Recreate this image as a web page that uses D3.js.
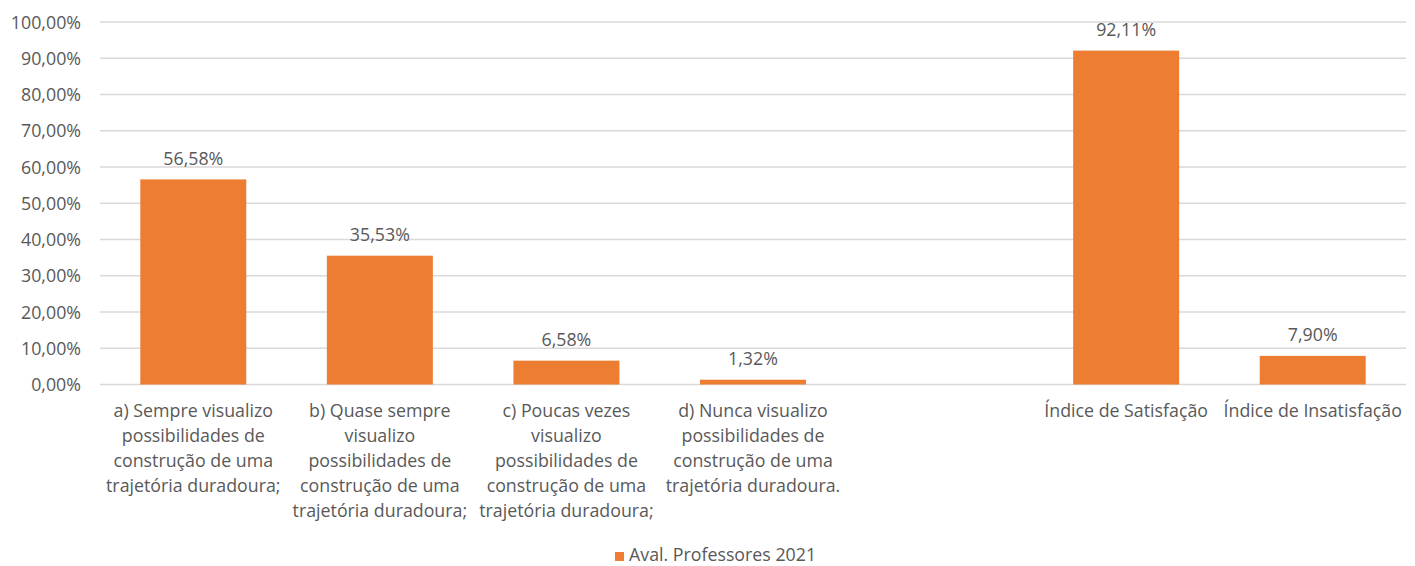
<!DOCTYPE html>
<html>
<head>
<meta charset="utf-8">
<script src="https://cdn.jsdelivr.net/npm/d3@7"></script>
<style>
  html, body { margin: 0; padding: 0; background: #fff; }
  svg text { font-family: "Open Sans", "Noto Sans", sans-serif; fill: #595959; }
</style>
</head>
<body>
<svg id="chart" width="1415" height="566"></svg>
<script>
// Category labels (line breaks as they wrap under the bars); "" is a spacer slot
const categories = [
  "a) Sempre visualizo\npossibilidades de\nconstrução de uma\ntrajetória duradoura;",
  "b) Quase sempre\nvisualizo\npossibilidades de\nconstrução de uma\ntrajetória duradoura;",
  "c) Poucas vezes\nvisualizo\npossibilidades de\nconstrução de uma\ntrajetória duradoura;",
  "d) Nunca visualizo\npossibilidades de\nconstrução de uma\ntrajetória duradoura.",
  "",
  "Índice de Satisfação",
  "Índice de Insatisfação"
];
const values = [56.58, 35.53, 6.58, 1.32, null, 92.11, 7.90];
const seriesName = "Aval. Professores 2021";
const yTicks = [0, 10, 20, 30, 40, 50, 60, 70, 80, 90, 100];

const fmt = v => v.toFixed(2).replace(".", ",") + "%";

const svg = d3.select("#chart");
const margin = { left: 100, right: 9, top: 22, bottom: 182 };
const W = 1415, H = 566;
const FS = 17.8;

const x = d3.scaleBand()
  .domain(d3.range(categories.length))
  .range([margin.left, W - margin.right])
  .paddingInner(0.432)
  .paddingOuter(0.216);

const y = d3.scaleLinear()
  .domain([0, 100])
  .range([H - margin.bottom + 0.5, margin.top]);

// Horizontal gridlines
svg.append("g")
  .selectAll("line")
  .data(yTicks)
  .join("line")
  .attr("x1", margin.left)
  .attr("x2", W - margin.right)
  .attr("y1", d => y(d))
  .attr("y2", d => y(d))
  .attr("stroke", "#d9d9d9")
  .attr("stroke-width", 1.3);

// Y axis labels
const yAxis = d3.axisLeft(y).tickValues(yTicks).tickFormat(fmt).tickSize(0).tickPadding(0);
const yg = svg.append("g").attr("transform", `translate(${margin.left - 19},0)`).call(yAxis);
yg.select(".domain").remove();
yg.selectAll("text")
  .attr("font-size", FS)
  .attr("dy", "0.35em")
  .style("font-family", "'Open Sans', sans-serif")
  .attr("fill", "#595959");

const idx = d3.range(categories.length).filter(i => values[i] != null);

// Bars
svg.append("g")
  .selectAll("rect")
  .data(idx)
  .join("rect")
  .attr("x", i => x(i))
  .attr("width", x.bandwidth())
  .attr("y", i => y(values[i]))
  .attr("height", i => y(0) - y(values[i]))
  .attr("fill", "#ED7D31");

// Value labels
svg.append("g")
  .selectAll("text")
  .data(idx)
  .join("text")
  .attr("x", i => x(i) + x.bandwidth() / 2)
  .attr("y", i => y(values[i]) - 21)
  .attr("dy", "0.35em")
  .attr("text-anchor", "middle")
  .attr("font-size", FS)
  .text(i => fmt(values[i]));

// Category labels
const xg = svg.append("g");
categories.forEach((c, i) => {
  if (!c) return;
  const t = xg.append("text")
    .attr("x", x(i) + x.bandwidth() / 2)
    .attr("y", 411)
    .attr("text-anchor", "middle")
    .attr("font-size", FS);
  c.split("\n").forEach((line, k) => {
    t.append("tspan")
      .attr("x", x(i) + x.bandwidth() / 2)
      .attr("dy", k === 0 ? "0.35em" : 25)
      .text(line);
  });
});

// Legend
const lg = svg.append("g").attr("transform", "translate(615,556)");
lg.append("rect").attr("x", 0).attr("y", -4).attr("width", 9).attr("height", 9).attr("fill", "#ED7D31");
lg.append("text").attr("x", 14).attr("y", 0).attr("dy", "0.3em").attr("font-size", FS).text(seriesName);
</script>
</body>
</html>
